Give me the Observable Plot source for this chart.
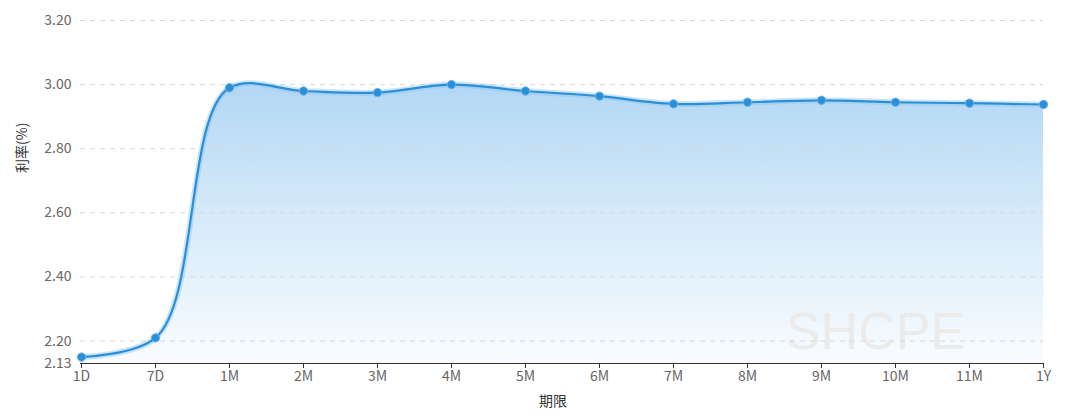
<!DOCTYPE html>
<html><head><meta charset="utf-8">
<script src="https://cdn.jsdelivr.net/npm/d3@7"></script>
<script src="https://cdn.jsdelivr.net/npm/@observablehq/plot@0.6"></script>
<style>body{margin:0;background:#fff;}</style>
</head><body><div id="chart"></div>
<script>
const terms = ["1D","7D","1M","2M","3M","4M","5M","6M","7M","8M","9M","10M","11M","1Y"];
const rates = [2.15,2.21,2.99,2.98,2.975,3.00,2.98,2.964,2.94,2.945,2.951,2.945,2.942,2.938];
const yTicks = [2.13,2.20,2.40,2.60,2.80,3.00,3.20];
const gridTicks = [2.20,2.40,2.60,2.80,3.00,3.20];
const yMin = 2.13, yMax = 3.20;
const yTitle = ["利率(%)"];
const xTitle = ["期限"];
const watermark = ["SHCPE"];

const data = terms.map((t, i) => ({term: t, rate: rates[i]}));

const gradientDefs = () => {
  const ns = "http://www.w3.org/2000/svg";
  const defs = document.createElementNS(ns, "defs");
  const lg = document.createElementNS(ns, "linearGradient");
  lg.setAttribute("id", "areaGrad");
  lg.setAttribute("x1", "0"); lg.setAttribute("y1", "0");
  lg.setAttribute("x2", "0"); lg.setAttribute("y2", "1");
  [["0%", "#b2d7f4"], ["45%", "#d4e9f9"], ["100%", "#f9fcff"]].forEach(([o, c]) => {
    const s = document.createElementNS(ns, "stop");
    s.setAttribute("offset", o); s.setAttribute("stop-color", c);
    lg.appendChild(s);
  });
  defs.appendChild(lg);
  return defs;
};

const curve = "catmull-rom";
const tension = 0.6;

const chart = Plot.plot({
  width: 1080,
  height: 419,
  marginLeft: 80,
  marginRight: 37,
  marginTop: 20,
  marginBottom: 56,
  style: {fontFamily: "'Noto Sans CJK SC', 'Noto Sans', sans-serif", fontSize: "14px", color: "#666", background: "#fff"},
  x: {type: "point", domain: terms, padding: 0},
  y: {domain: [yMin, yMax]},
  marks: [
    gradientDefs,
    Plot.areaY(data, {x: "term", y1: () => yMin, y2: "rate", curve, tension, fill: "url(#areaGrad)"}),
    Plot.text(watermark, {frameAnchor: "bottom-right", dx: -168, dy: -15, textAnchor: "middle", lineAnchor: "bottom", fontSize: 52, fill: "#ebebeb", fontFamily: "'Liberation Sans', Arial, sans-serif"}),
    Plot.ruleY(gridTicks, {stroke: "#d9d9d9", strokeDasharray: "5,5"}),
    Plot.ruleY([yMin], {stroke: "#333", strokeWidth: 1}),
    Plot.axisX({tickSize: 5, tickPadding: 3, stroke: "#333", fill: "#666", label: null}),
    Plot.axisY(yTicks, {tickSize: 0, tickPadding: 9, tickFormat: d3.format(".2f"), fill: "#666", label: null}),
    Plot.line(data, {x: "term", y: "rate", curve, tension, stroke: "#8ec6f0", strokeWidth: 6, strokeOpacity: 0.45}),
    Plot.line(data, {x: "term", y: "rate", curve, tension, stroke: "#2b8fd8", strokeWidth: 2.2}),
    Plot.dot(data, {x: "term", y: "rate", r: 4.2, fill: "#2b8fd8", stroke: "#6db4ec", strokeWidth: 1}),
    Plot.text(yTitle, {frameAnchor: "left", dx: -58, dy: -19, rotate: -90, fill: "#333", fontSize: 14}),
    Plot.text(xTitle, {frameAnchor: "bottom", dx: -9, dy: 42, fill: "#333", fontSize: 14})
  ]
});
document.getElementById("chart").appendChild(chart);
</script>
</body></html>
